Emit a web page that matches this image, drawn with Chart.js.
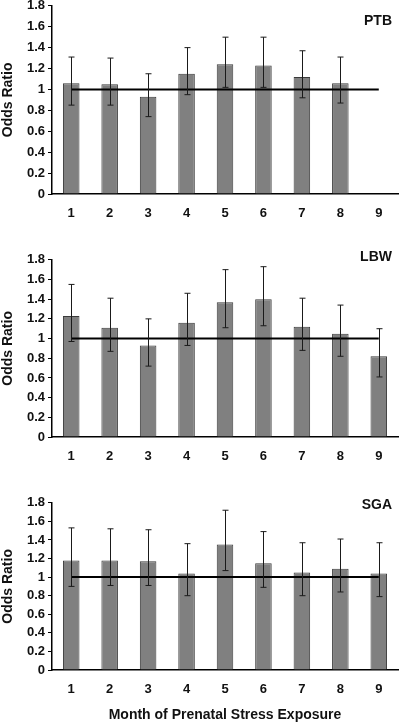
<!DOCTYPE html>
<html>
<head>
<meta charset="utf-8">
<script src="https://cdn.jsdelivr.net/npm/chart.js@4.4.1/dist/chart.umd.min.js"></script>
<style>
    html, body { margin: 0; padding: 0; background: #fff; }
    body { width: 400px; height: 722px; position: relative; overflow: hidden; }
    .panel { position: absolute; left: 0; width: 400px; }
</style>
</head>
<body>
<div class="panel" style="top:-5px;height:227px"><canvas id="ptbChart"></canvas></div>
<div class="panel" style="top:249px;height:217px"><canvas id="lbwChart"></canvas></div>
<div class="panel" style="top:492px;height:232px"><canvas id="sgaChart"></canvas></div>
<script>
const months = ['1', '2', '3', '4', '5', '6', '7', '8', '9'];
const refLine = [1, 1, 1, 1, 1, 1, 1, 1, 1];

// odds ratios with lower / upper confidence limits
const ptbOR = [1.06, 1.05, 0.93, 1.15, 1.24, 1.23, 1.12, 1.06, null];
const ptbLow = [0.85, 0.85, 0.74, 0.95, 1.02, 1.02, 0.92, 0.87, null];
const ptbHigh = [1.31, 1.30, 1.15, 1.40, 1.50, 1.50, 1.37, 1.31, null];

const lbwOR = [1.23, 1.11, 0.93, 1.16, 1.37, 1.40, 1.12, 1.05, 0.82];
const lbwLow = [0.97, 0.87, 0.72, 0.93, 1.11, 1.13, 0.88, 0.82, 0.61];
const lbwHigh = [1.55, 1.41, 1.20, 1.46, 1.70, 1.73, 1.41, 1.34, 1.10];

const sgaOR = [1.18, 1.18, 1.17, 1.04, 1.35, 1.15, 1.05, 1.09, 1.04];
const sgaLow = [0.90, 0.91, 0.91, 0.80, 1.07, 0.89, 0.80, 0.84, 0.79];
const sgaHigh = [1.53, 1.52, 1.51, 1.36, 1.72, 1.49, 1.37, 1.41, 1.37];

const FONT = 'Liberation Sans, Arial, Helvetica, sans-serif';

// draws the confidence interval whiskers on top of the bars
const errorBars = {
    id: 'errorBars',
    afterDatasetsDraw(chart) {
        const ctx = chart.ctx;
        const yScale = chart.scales.y;
        chart.data.datasets.forEach((ds, i) => {
            if (!ds.low) return;
            const meta = chart.getDatasetMeta(i);
            meta.data.forEach((bar, j) => {
                if (ds.low[j] == null) return;
                const yLo = yScale.getPixelForValue(ds.low[j]);
                const yHi = yScale.getPixelForValue(ds.high[j]);
                const x = Math.round(bar.x) + 0.5;
                ctx.save();
                ctx.strokeStyle = '#1a1a1a';
                ctx.lineWidth = 1;
                ctx.beginPath();
                ctx.moveTo(x, yLo);
                ctx.lineTo(x, yHi);
                ctx.moveTo(x - 3, yLo);
                ctx.lineTo(x + 3, yLo);
                ctx.moveTo(x - 3, yHi);
                ctx.lineTo(x + 3, yHi);
                ctx.stroke();
                ctx.restore();
            });
        });
    }
};

// outcome label in the top right corner of the plot
const panelLabel = {
    id: 'panelLabel',
    afterDraw(chart, args, opts) {
        const ctx = chart.ctx;
        ctx.save();
        ctx.font = 'bold 14px ' + FONT;
        ctx.fillStyle = '#111';
        ctx.textAlign = 'right';
        ctx.textBaseline = 'middle';
        ctx.fillText(opts.text, chart.chartArea.right - 6, chart.chartArea.top + opts.dy);
        ctx.restore();
    }
};

function makeChart(id, label, values, low, high, xHeight, showTitle, dy) {
    const ctx = document.getElementById(id).getContext('2d');
    return new Chart(ctx, {
        type: 'bar',
        data: {
            labels: months,
            datasets: [{
                type: 'line',
                data: refLine,
                borderColor: '#000',
                borderWidth: 2,
                pointRadius: 0,
                order: 0
            }, {
                type: 'bar',
                data: values,
                low: low,
                high: high,
                backgroundColor: '#808080',
                borderColor: '#3a3a3a',
                borderWidth: 1,
                barPercentage: 0.43,
                categoryPercentage: 1,
                order: 1
            }]
        },
        options: {
            responsive: true,
            maintainAspectRatio: false,
            animation: false,
            layout: { padding: { top: 8, right: 2, left: 0, bottom: 0 } },
            plugins: {
                legend: { display: false },
                tooltip: { enabled: false },
                panelLabel: { text: label, dy: dy }
            },
            scales: {
                x: {
                    offset: true,
                    grid: { display: false, drawTicks: false },
                    border: { display: true, color: '#000', width: 1.5 },
                    ticks: {
                        padding: 12,
                        autoSkip: false,
                        maxRotation: 0,
                        color: '#111',
                        font: { family: FONT, size: 13, weight: 'bold' }
                    },
                    title: {
                        display: showTitle,
                        text: 'Month of Prenatal Stress Exposure',
                        color: '#111',
                        padding: { top: 0, bottom: 0 },
                        font: { family: FONT, size: 14, weight: 'bold' }
                    },
                    afterFit(axis) { axis.height = xHeight; }
                },
                y: {
                    min: 0,
                    max: 1.8,
                    grid: { drawOnChartArea: false, drawTicks: true, tickLength: 4, color: '#000' },
                    border: { display: true, color: '#000', width: 1.5 },
                    ticks: {
                        stepSize: 0.2,
                        autoSkip: false,
                        padding: 3,
                        color: '#111',
                        font: { family: FONT, size: 13, weight: 'bold' },
                        callback: (v) => String(Number(v.toFixed(1)))
                    },
                    title: {
                        display: true,
                        text: 'Odds Ratio',
                        color: '#111',
                        padding: { top: 0, bottom: 0 },
                        font: { family: FONT, size: 14, weight: 'bold' }
                    },
                    afterFit(axis) { axis.width = 52; }
                }
            }
        },
        plugins: [errorBars, panelLabel]
    });
}

makeChart('ptbChart', 'PTB', ptbOR, ptbLow, ptbHigh, 28, false, 15);
makeChart('lbwChart', 'LBW', lbwOR, lbwLow, lbwHigh, 29, false, -3);
makeChart('sgaChart', 'SGA', sgaOR, sgaLow, sgaHigh, 54, true, 2);
</script>
</body>
</html>
